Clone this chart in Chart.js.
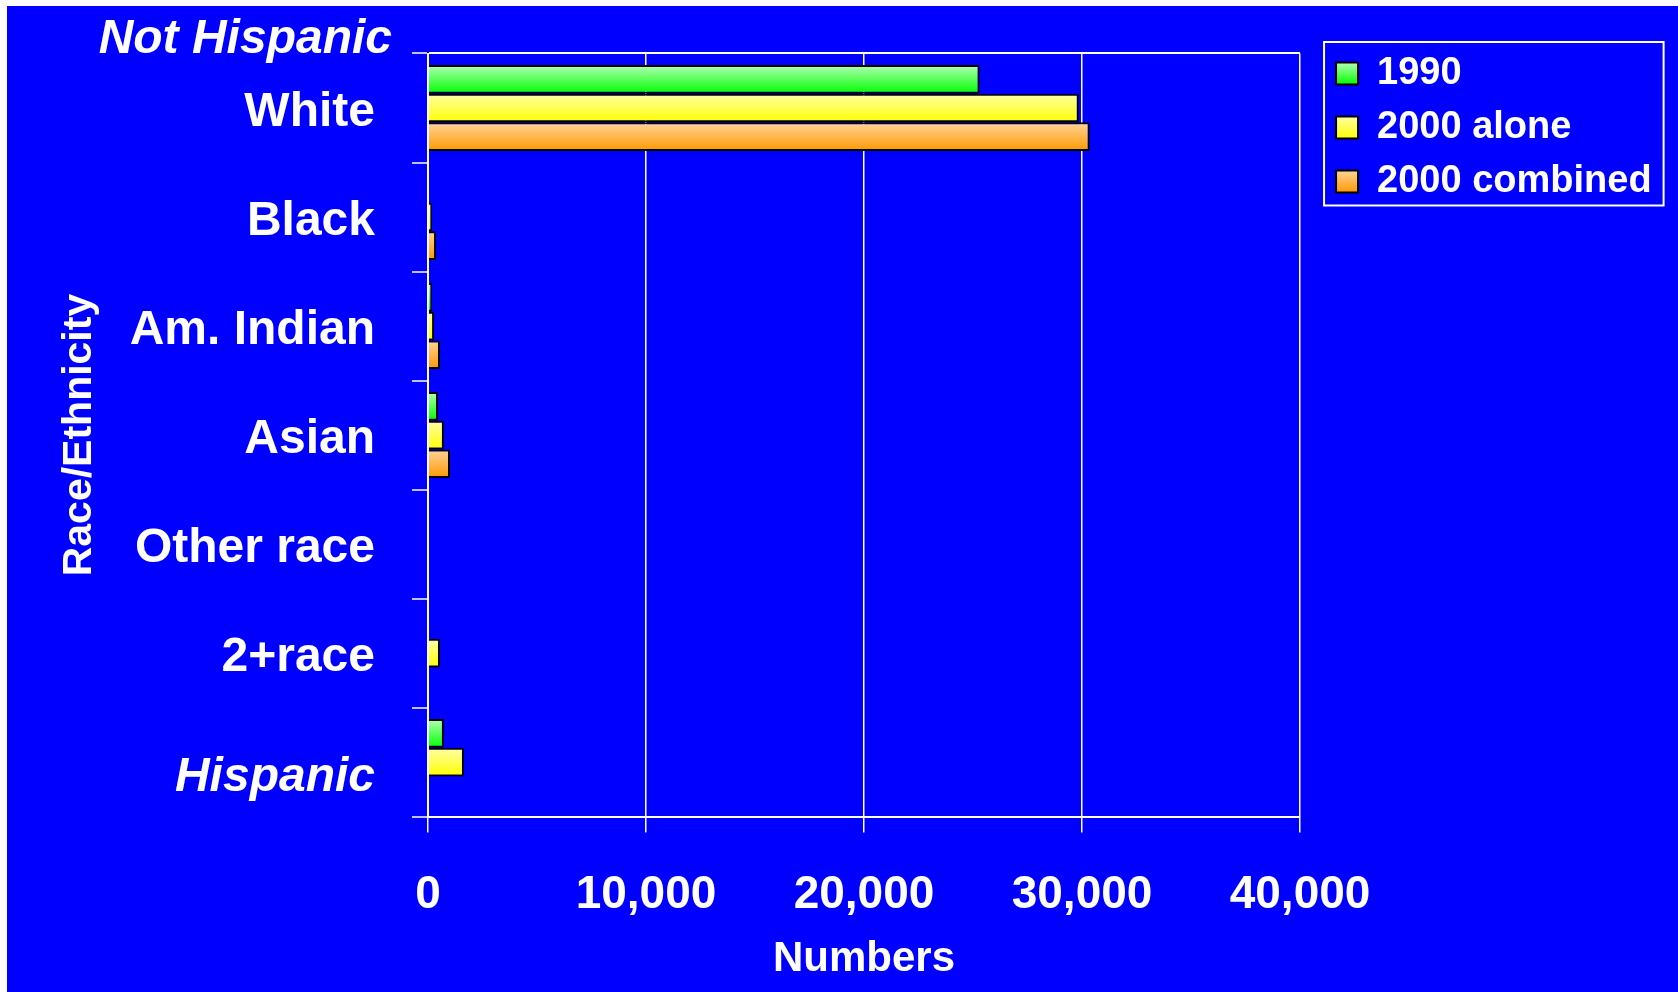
<!DOCTYPE html>
<html><head><meta charset="utf-8">
<script src="https://cdn.jsdelivr.net/npm/chart.js@4"></script>
<style>
html,body{margin:0;padding:0;background:#fff;width:1678px;height:992px;overflow:hidden}
#wrap{position:absolute;left:7px;top:6px;width:1671px;height:986px;background:#0000ff}
</style></head><body>
<div id="wrap"><canvas id="c"></canvas></div>
<script>
// ---- data ----
const categories = ['White', 'Black', 'Am. Indian', 'Asian', 'Other race', '2+race', 'Hispanic'];
const groupLabel = 'Not Hispanic';
const seriesNames = ['1990', '2000 alone', '2000 combined'];
const values1990 = [25300, 0, 180, 460, 0, 0, 730];
const values2000Alone = [29850, 180, 280, 730, 0, 550, 1650];
const values2000Combined = [30350, 370, 550, 1010, 0, 0, 0];
const xTickValues = [0, 10000, 20000, 30000, 40000];
const xTitle = 'Numbers';
const yTitle = 'Race/Ethnicity';

// ---- styles ----
const FONT = '"Liberation Sans", Arial, Helvetica, sans-serif';
const gradStops = [
  ['#b4ffb4', '#00ff00'],
  ['#ffffa8', '#ffff00'],
  ['#ffd49a', '#ff9900']
];
const solid = ['#40ff40', '#ffff40', '#ffb040'];
const lastIdx = categories.length - 1;

Chart.defaults.font.family = FONT;
Chart.defaults.color = '#ffffff';

const stylePlugin = {
  id: 'stylePlugin',
  afterLayout(chart) {
    const lg = chart.legend;
    lg.left += 20; lg.right += 20;
    lg.top -= 15; lg.bottom -= 15;
  },
  beforeDatasetsDraw(chart) {
    const ctx = chart.ctx;
    chart.data.datasets.forEach((ds, di) => {
      const meta = chart.getDatasetMeta(di);
      meta.data.forEach(el => {
        const p = el.getProps(['y', 'height'], true);
        const g = ctx.createLinearGradient(0, p.y - p.height / 2, 0, p.y + p.height / 2);
        g.addColorStop(0, gradStops[di][0]);
        g.addColorStop(1, gradStops[di][1]);
        el.options = Object.assign({}, el.options, {backgroundColor: g});
      });
    });
  },
  beforeDraw(chart) {
    const lg = chart.legend;
    const ctx = chart.ctx;
    if (!lg || !lg.legendItems) return;
    lg.legendItems.forEach((it, i) => {
      const hb = lg.legendHitBoxes[i];
      if (!hb) return;
      const top = hb.top + 8;
      const g = ctx.createLinearGradient(0, top, 0, top + 22);
      g.addColorStop(0, gradStops[i][0]);
      g.addColorStop(1, gradStops[i][1]);
      it.fillStyle = g;
    });
  },
  afterDraw(chart) {
    const ctx = chart.ctx;
    const lg = chart.legend;
    const hb = lg.legendHitBoxes;
    ctx.save();
    if (hb && hb.length) {
      const L = Math.min(...hb.map(h => h.left)) - 12;
      const T = hb[0].top - 12.5;
      const R = Math.max(...hb.map(h => h.left + h.width)) + 12;
      const last = hb[hb.length - 1];
      const B = last.top + last.height + 5;
      ctx.strokeStyle = '#ffffff';
      ctx.lineWidth = 2;
      ctx.strokeRect(L, T, R - L, B - T);
    }
    const ys = chart.scales.y;
    ctx.fillStyle = '#ffffff';
    ctx.font = 'italic bold 48px ' + FONT;
    ctx.textAlign = 'right';
    ctx.textBaseline = 'middle';
    ctx.fillText(groupLabel, ys.right - 36, chart.chartArea.top - 14);
    ctx.restore();
  }
};

const datasets = [values1990, values2000Alone, values2000Combined].map((vals, i) => ({
  label: seriesNames[i],
  data: vals,
  backgroundColor: solid[i],
  borderColor: '#000000',
  borderWidth: 2,
  borderSkipped: 'start',
  categoryPercentage: 0.79,
  barPercentage: 1.0
}));

new Chart(document.getElementById('c'), {
  type: 'bar',
  data: { labels: categories, datasets },
  plugins: [stylePlugin],
  options: {
    indexAxis: 'y',
    responsive: true,
    maintainAspectRatio: false,
    animation: false,
    events: [],
    layout: { padding: { left: 10, right: 36.4, top: 47.5, bottom: 0 } },
    scales: {
      x: {
        type: 'linear',
        min: 0, max: 40000,
        afterBuildTicks: s => { s.ticks = xTickValues.map(v => ({value: v})); },
        afterFit: s => { s.height = 175.4; },
        ticks: {
          color: '#ffffff',
          padding: 35.5,
          font: { size: 46, weight: 'bold' },
          callback: v => Number(v).toLocaleString('en-US')
        },
        grid: { color: '#ffffff', lineWidth: 1.5, tickLength: 16, tickColor: '#ffffff', tickWidth: 1.5 },
        border: { color: '#ffffff', width: 2 },
        title: {
          display: true, text: xTitle, color: '#ffffff',
          font: { size: 42, weight: 'bold' },
          padding: { top: 14.7, bottom: 7.8 }
        }
      },
      y: {
        type: 'category',
        offset: true,
        z: 1,
        afterFit: s => { s.width = 411; s.paddingTop = 0; s.paddingBottom = 0; },
        ticks: {
          color: '#ffffff',
          padding: 37,
          labelOffset: 5,
          callback: (v, i) => (i === lastIdx ? ['', categories[i]] : categories[i]),
          font: c => (c.index === lastIdx
            ? { size: 48, weight: 'bold', style: 'italic', family: FONT, lineHeight: 0.4375 }
            : { size: 48, weight: 'bold', style: 'normal', family: FONT })
        },
        grid: {
          offset: true,
          drawOnChartArea: true,
          color: c => (c.type !== 'tick' || c.index === 0) ? '#ffffff' : 'rgba(0,0,0,0)',
          lineWidth: 2,
          tickLength: 16,
          tickColor: '#ffffff',
          tickWidth: 1.5
        },
        border: { color: '#ffffff', width: 2 },
        title: {
          display: true, text: yTitle, color: '#ffffff',
          font: { size: 41, weight: 'bold' },
          padding: { top: 38.4, bottom: 25.4 }
        }
      }
    },
    plugins: {
      legend: {
        position: 'right',
        align: 'start',
        labels: {
          color: '#ffffff',
          font: { size: 38, weight: 'bold' },
          boxWidth: 22,
          boxHeight: 22,
          padding: 16
        }
      },
      tooltip: { enabled: false }
    }
  }
});
</script>
</body></html>
